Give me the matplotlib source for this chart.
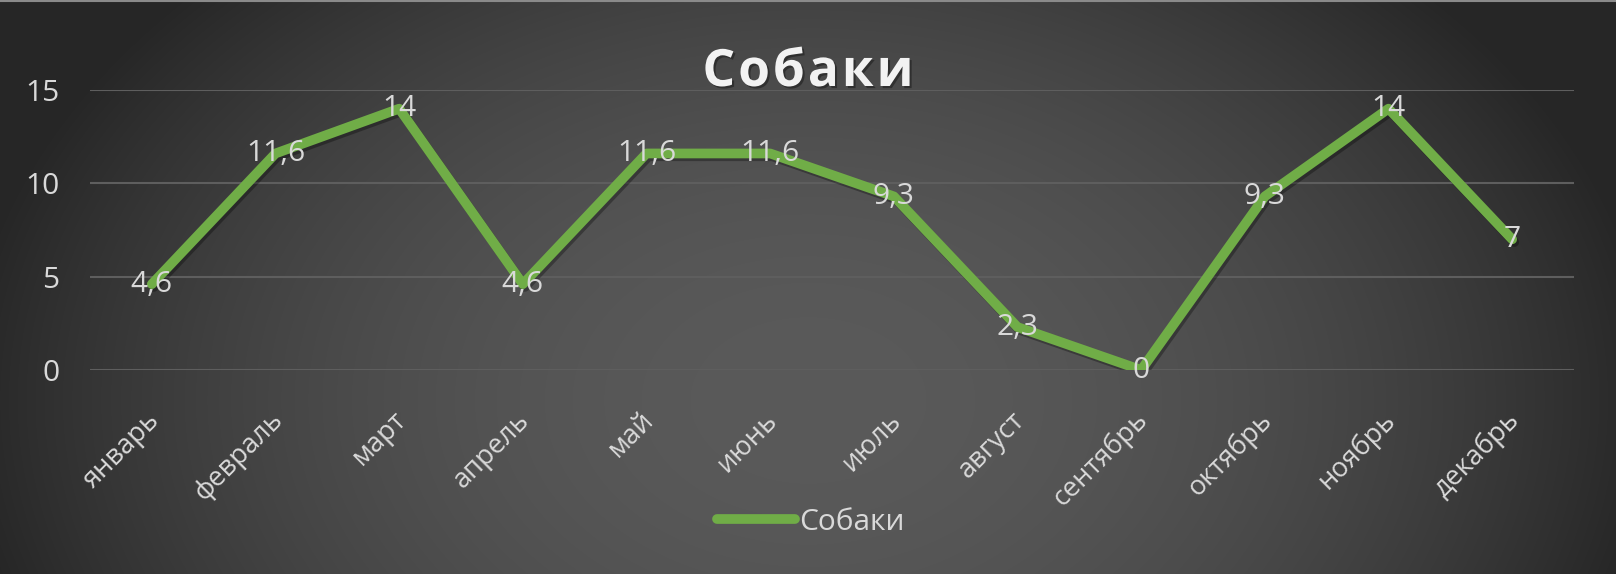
import matplotlib.pyplot as plt
import matplotlib.patheffects as pe
from matplotlib.transforms import ScaledTranslation
import numpy as np

months = ['январь', 'февраль', 'март', 'апрель', 'май', 'июнь',
          'июль', 'август', 'сентябрь', 'октябрь', 'ноябрь', 'декабрь']
dogs = [4.6, 11.6, 14, 4.6, 11.6, 11.6, 9.3, 2.3, 0, 9.3, 14, 7]
yticks = [0, 5, 10, 15]
title = 'Собаки'

plt.rcParams['font.family'] = ['Open Sans', 'DejaVu Sans']
W, H = 1616, 574
fs = 21.5
fig = plt.figure(figsize=(W / 100, H / 100), dpi=100)

# фон: радиальный градиент
bg = fig.add_axes([0, 0, 1, 1], zorder=0)
yy, xx = np.mgrid[0:H, 0:W]
r = np.sqrt(((xx - 808) / 850) ** 2 + ((yy - 400) / 600) ** 2)
r = np.clip(r, 0, 1) ** 2
v = (90 - 52 * r) / 255
bg.imshow(np.dstack([v, v, v]), extent=[0, W, H, 0], aspect='auto')
bg.plot([0, W], [0.5, 0.5], color='#8a8a8a', lw=1.5)
bg.set_xlim(0, W)
bg.set_ylim(H, 0)
bg.axis('off')

ax = fig.add_axes([90 / W, 1 - 370 / H, (1574 - 90) / W, 280 / H], zorder=1)
ax.patch.set_alpha(0)
x = np.arange(len(months))
ax.plot(x, dogs, color='#70AD47', lw=7, solid_joinstyle='round',
        solid_capstyle='round', zorder=3,
        path_effects=[pe.SimpleLineShadow(offset=(1.5, -2), shadow_color='black', alpha=0.3),
                      pe.Normal()])
for xi, val in zip(x, dogs):
    lab = ('%g' % val).replace('.', ',')
    ax.text(xi, val, lab, ha='center', va='center', color='#d9d9d9',
            fontsize=fs, zorder=4)

ax.set_xlim(-0.5, len(months) - 0.5)
ax.set_ylim(0, 15)
ax.set_yticks(yticks)
ax.set_yticklabels([str(t) for t in yticks])
ax.grid(axis='y', color='#5e5e5e', lw=1.5)
ax.set_axisbelow(True)
for s in ax.spines.values():
    s.set_visible(False)
ax.tick_params(axis='y', length=0, pad=22, labelsize=fs, labelcolor='#d9d9d9')
ax.tick_params(axis='x', length=0, pad=26, labelsize=19.5, labelcolor='#d9d9d9')
ax.set_xticks(x)
ax.set_xticklabels(months, rotation=45, ha='right', va='top')
off = ScaledTranslation(13 / 100, 0, fig.dpi_scale_trans)
for t in ax.get_xticklabels():
    t.set_transform(t.get_transform() + off)

# заголовок с разрядкой
fig.canvas.draw()
rend = fig.canvas.get_renderer()
shadow = [pe.withSimplePatchShadow(offset=(1.5, -1.5), shadow_rgbFace='black', alpha=0.35)]
chars = []
for ch in title:
    t = fig.text(0, 0, ch, fontsize=37, fontweight='bold', color='#f2f2f2',
                 va='baseline', ha='left', path_effects=shadow)
    chars.append((t, t.get_window_extent(rend).width))
gap = 3
total = sum(w for _, w in chars) + gap * (len(chars) - 1)
cx = 808 - total / 2
for t, w in chars:
    t.set_position((cx / W, 1 - 86 / H))
    cx += w + gap

leg = ax.legend(['Собаки'], loc='center', bbox_to_anchor=(811 / W, 1 - 522 / H),
                bbox_transform=fig.transFigure, frameon=False, fontsize=fs,
                handlelength=2.6, handletextpad=0.15, labelcolor='#d9d9d9')
for h in leg.get_lines():
    h.set_path_effects([])
    h.set_solid_capstyle('round')

fig.savefig('out.png', dpi=100)
